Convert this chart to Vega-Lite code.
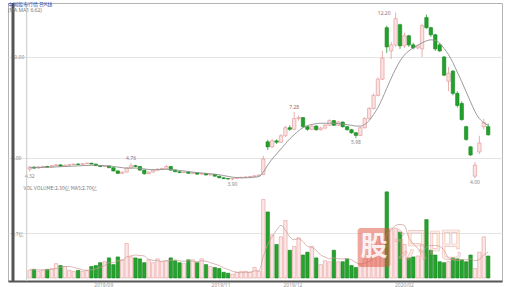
{
  "$schema": "https://vega.github.io/schema/vega-lite/v6.json",
  "width": 494,
  "height": 278,
  "autosize": {"type": "none"},
  "padding": {"left": 8, "top": 3, "right": 3, "bottom": 6},
  "background": "white",
  "config": {
    "view": {"stroke": "#b4b4b4", "strokeWidth": 1},
    "font": "Noto Sans",
    "text": {"font": "Noto Sans CJK SC"}
  },
  "title": {
    "text": "中国股市行情  日K线",
    "subtitle": "\u00a0\u00a0\u00a0\u00a0\u00a0\u00a0\u00a0\u00a0\u00a0(MA  MA1  6.62)",
    "anchor": "start",
    "frame": "group",
    "offset": -11,
    "fontSize": 5,
    "fontWeight": "normal",
    "font": "Noto Sans CJK SC",
    "color": "#2d4fb5",
    "subtitleFontSize": 5,
    "subtitleFont": "Noto Sans",
    "subtitleColor": "#777777",
    "subtitlePadding": 1
  },
  "datasets": {
    "k": [
      {"i": 0, "o": 4.45, "c": 4.55, "h": 4.60, "l": 4.32, "v": 0.8, "ma": 4.52, "vma": 0.9},
      {"i": 1, "o": 4.55, "c": 4.50, "h": 4.58, "l": 4.46, "v": 0.9, "ma": 4.52, "vma": 0.9},
      {"i": 2, "o": 4.50, "c": 4.56, "h": 4.59, "l": 4.48, "v": 0.7, "ma": 4.53, "vma": 0.85},
      {"i": 3, "o": 4.56, "c": 4.58, "h": 4.62, "l": 4.53, "v": 0.8, "ma": 4.53, "vma": 0.85},
      {"i": 4, "o": 4.58, "c": 4.55, "h": 4.61, "l": 4.52, "v": 0.9, "ma": 4.54, "vma": 0.85},
      {"i": 5, "o": 4.55, "c": 4.62, "h": 4.65, "l": 4.54, "v": 1.0, "ma": 4.55, "vma": 0.9},
      {"i": 6, "o": 4.62, "c": 4.66, "h": 4.70, "l": 4.60, "v": 1.5, "ma": 4.56, "vma": 1.0},
      {"i": 7, "o": 4.66, "c": 4.60, "h": 4.68, "l": 4.58, "v": 1.3, "ma": 4.57, "vma": 1.1},
      {"i": 8, "o": 4.60, "c": 4.64, "h": 4.67, "l": 4.58, "v": 1.2, "ma": 4.58, "vma": 1.2},
      {"i": 9, "o": 4.64, "c": 4.67, "h": 4.70, "l": 4.62, "v": 0.8, "ma": 4.59, "vma": 1.2},
      {"i": 10, "o": 4.67, "c": 4.70, "h": 4.73, "l": 4.65, "v": 0.7, "ma": 4.60, "vma": 1.1},
      {"i": 11, "o": 4.70, "c": 4.68, "h": 4.74, "l": 4.66, "v": 0.8, "ma": 4.61, "vma": 1.0},
      {"i": 12, "o": 4.68, "c": 4.72, "h": 4.75, "l": 4.67, "v": 0.7, "ma": 4.62, "vma": 0.85},
      {"i": 13, "o": 4.72, "c": 4.74, "h": 4.78, "l": 4.70, "v": 0.8, "ma": 4.63, "vma": 0.8},
      {"i": 14, "o": 4.74, "c": 4.70, "h": 4.76, "l": 4.68, "v": 1.2, "ma": 4.64, "vma": 0.85},
      {"i": 15, "o": 4.70, "c": 4.62, "h": 4.72, "l": 4.60, "v": 1.3, "ma": 4.64, "vma": 0.95},
      {"i": 16, "o": 4.62, "c": 4.58, "h": 4.64, "l": 4.55, "v": 1.6, "ma": 4.63, "vma": 1.1},
      {"i": 17, "o": 4.58, "c": 4.60, "h": 4.63, "l": 4.56, "v": 1.7, "ma": 4.62, "vma": 1.3},
      {"i": 18, "o": 4.60, "c": 4.52, "h": 4.62, "l": 4.50, "v": 2.1, "ma": 4.61, "vma": 1.6},
      {"i": 19, "o": 4.52, "c": 4.36, "h": 4.54, "l": 4.33, "v": 1.4, "ma": 4.58, "vma": 1.6},
      {"i": 20, "o": 4.36, "c": 4.24, "h": 4.38, "l": 4.20, "v": 2.2, "ma": 4.55, "vma": 1.8},
      {"i": 21, "o": 4.24, "c": 4.30, "h": 4.34, "l": 4.21, "v": 1.9, "ma": 4.52, "vma": 1.85},
      {"i": 22, "o": 4.30, "c": 4.50, "h": 4.54, "l": 4.28, "v": 3.6, "ma": 4.50, "vma": 2.2},
      {"i": 23, "o": 4.50, "c": 4.62, "h": 4.76, "l": 4.48, "v": 2.2, "ma": 4.50, "vma": 2.3},
      {"i": 24, "o": 4.62, "c": 4.58, "h": 4.66, "l": 4.54, "v": 2.1, "ma": 4.50, "vma": 2.4},
      {"i": 25, "o": 4.58, "c": 4.40, "h": 4.60, "l": 4.38, "v": 2.0, "ma": 4.49, "vma": 2.35},
      {"i": 26, "o": 4.40, "c": 4.22, "h": 4.42, "l": 4.18, "v": 1.6, "ma": 4.46, "vma": 2.3},
      {"i": 27, "o": 4.22, "c": 4.30, "h": 4.33, "l": 4.20, "v": 1.9, "ma": 4.43, "vma": 1.95},
      {"i": 28, "o": 4.30, "c": 4.40, "h": 4.43, "l": 4.28, "v": 1.6, "ma": 4.42, "vma": 1.85},
      {"i": 29, "o": 4.40, "c": 4.45, "h": 4.48, "l": 4.38, "v": 2.0, "ma": 4.42, "vma": 1.8},
      {"i": 30, "o": 4.45, "c": 4.48, "h": 4.52, "l": 4.43, "v": 1.7, "ma": 4.43, "vma": 1.75},
      {"i": 31, "o": 4.48, "c": 4.58, "h": 4.66, "l": 4.46, "v": 1.8, "ma": 4.44, "vma": 1.8},
      {"i": 32, "o": 4.58, "c": 4.40, "h": 4.60, "l": 4.38, "v": 2.1, "ma": 4.43, "vma": 1.85},
      {"i": 33, "o": 4.40, "c": 4.32, "h": 4.42, "l": 4.30, "v": 1.8, "ma": 4.41, "vma": 1.9},
      {"i": 34, "o": 4.32, "c": 4.28, "h": 4.35, "l": 4.26, "v": 1.6, "ma": 4.38, "vma": 1.8},
      {"i": 35, "o": 4.28, "c": 4.30, "h": 4.33, "l": 4.26, "v": 1.5, "ma": 4.36, "vma": 1.75},
      {"i": 36, "o": 4.30, "c": 4.24, "h": 4.32, "l": 4.22, "v": 1.9, "ma": 4.33, "vma": 1.8},
      {"i": 37, "o": 4.24, "c": 4.26, "h": 4.29, "l": 4.22, "v": 1.9, "ma": 4.30, "vma": 1.75},
      {"i": 38, "o": 4.26, "c": 4.20, "h": 4.28, "l": 4.18, "v": 1.6, "ma": 4.28, "vma": 1.7},
      {"i": 39, "o": 4.20, "c": 4.23, "h": 4.26, "l": 4.18, "v": 2.0, "ma": 4.26, "vma": 1.8},
      {"i": 40, "o": 4.23, "c": 4.16, "h": 4.25, "l": 4.14, "v": 1.4, "ma": 4.24, "vma": 1.75},
      {"i": 41, "o": 4.16, "c": 4.18, "h": 4.21, "l": 4.14, "v": 1.2, "ma": 4.22, "vma": 1.6},
      {"i": 42, "o": 4.18, "c": 4.10, "h": 4.20, "l": 4.08, "v": 1.1, "ma": 4.20, "vma": 1.45},
      {"i": 43, "o": 4.10, "c": 4.02, "h": 4.12, "l": 4.00, "v": 1.0, "ma": 4.17, "vma": 1.3},
      {"i": 44, "o": 4.02, "c": 3.98, "h": 4.04, "l": 3.96, "v": 0.6, "ma": 4.13, "vma": 1.05},
      {"i": 45, "o": 3.98, "c": 3.96, "h": 4.00, "l": 3.93, "v": 0.5, "ma": 4.09, "vma": 0.9},
      {"i": 46, "o": 3.96, "c": 3.99, "h": 4.02, "l": 3.90, "v": 0.4, "ma": 4.05, "vma": 0.7},
      {"i": 47, "o": 3.99, "c": 4.02, "h": 4.05, "l": 3.97, "v": 0.6, "ma": 4.03, "vma": 0.6},
      {"i": 48, "o": 4.02, "c": 4.04, "h": 4.07, "l": 4.00, "v": 0.7, "ma": 4.02, "vma": 0.55},
      {"i": 49, "o": 4.04, "c": 4.06, "h": 4.09, "l": 4.02, "v": 0.7, "ma": 4.02, "vma": 0.6},
      {"i": 50, "o": 4.06, "c": 4.08, "h": 4.11, "l": 4.04, "v": 0.6, "ma": 4.03, "vma": 0.6},
      {"i": 51, "o": 4.08, "c": 4.12, "h": 4.15, "l": 4.06, "v": 1.1, "ma": 4.05, "vma": 0.75},
      {"i": 52, "o": 4.12, "c": 4.16, "h": 4.19, "l": 4.10, "v": 0.7, "ma": 4.08, "vma": 0.75},
      {"i": 53, "o": 4.18, "c": 4.95, "h": 5.10, "l": 4.16, "v": 8.2, "ma": 4.30, "vma": 2.25},
      {"i": 54, "o": 5.80, "c": 5.55, "h": 5.90, "l": 5.40, "v": 6.9, "ma": 4.65, "vma": 3.5},
      {"i": 55, "o": 5.55, "c": 5.85, "h": 5.95, "l": 5.50, "v": 4.5, "ma": 4.95, "vma": 4.3},
      {"i": 56, "o": 5.85, "c": 5.78, "h": 5.92, "l": 5.70, "v": 3.5, "ma": 5.20, "vma": 5.0},
      {"i": 57, "o": 5.78, "c": 6.10, "h": 6.18, "l": 5.75, "v": 4.3, "ma": 5.45, "vma": 5.5},
      {"i": 58, "o": 6.10, "c": 6.50, "h": 6.60, "l": 6.05, "v": 6.0, "ma": 5.70, "vma": 5.0},
      {"i": 59, "o": 6.50, "c": 6.42, "h": 6.62, "l": 6.35, "v": 2.9, "ma": 5.95, "vma": 4.3},
      {"i": 60, "o": 6.42, "c": 6.95, "h": 7.28, "l": 6.40, "v": 3.3, "ma": 6.15, "vma": 4.0},
      {"i": 61, "o": 6.95, "c": 7.00, "h": 7.10, "l": 6.85, "v": 4.2, "ma": 6.35, "vma": 4.1},
      {"i": 62, "o": 7.00, "c": 6.55, "h": 7.02, "l": 6.50, "v": 2.4, "ma": 6.50, "vma": 3.8},
      {"i": 63, "o": 6.55, "c": 6.42, "h": 6.60, "l": 6.35, "v": 2.7, "ma": 6.60, "vma": 3.3},
      {"i": 64, "o": 6.42, "c": 6.58, "h": 6.65, "l": 6.38, "v": 3.3, "ma": 6.66, "vma": 3.2},
      {"i": 65, "o": 6.58, "c": 6.40, "h": 6.62, "l": 6.35, "v": 2.1, "ma": 6.70, "vma": 2.9},
      {"i": 66, "o": 6.40, "c": 6.48, "h": 6.55, "l": 6.36, "v": 1.4, "ma": 6.72, "vma": 2.4},
      {"i": 67, "o": 6.48, "c": 6.62, "h": 6.68, "l": 6.45, "v": 1.8, "ma": 6.72, "vma": 2.2},
      {"i": 68, "o": 6.62, "c": 6.85, "h": 6.92, "l": 6.58, "v": 1.7, "ma": 6.72, "vma": 2.0},
      {"i": 69, "o": 6.85, "c": 6.62, "h": 6.88, "l": 6.58, "v": 2.9, "ma": 6.72, "vma": 2.1},
      {"i": 70, "o": 6.62, "c": 6.78, "h": 6.84, "l": 6.58, "v": 1.7, "ma": 6.70, "vma": 2.0},
      {"i": 71, "o": 6.78, "c": 6.55, "h": 6.80, "l": 6.50, "v": 1.7, "ma": 6.68, "vma": 2.0},
      {"i": 72, "o": 6.55, "c": 6.40, "h": 6.58, "l": 6.36, "v": 2.0, "ma": 6.65, "vma": 2.0},
      {"i": 73, "o": 6.40, "c": 6.25, "h": 6.44, "l": 6.20, "v": 1.3, "ma": 6.62, "vma": 1.9},
      {"i": 74, "o": 6.25, "c": 6.12, "h": 6.28, "l": 5.98, "v": 1.1, "ma": 6.58, "vma": 1.6},
      {"i": 75, "o": 6.12, "c": 6.50, "h": 6.55, "l": 6.08, "v": 1.4, "ma": 6.58, "vma": 1.5},
      {"i": 76, "o": 6.50, "c": 6.95, "h": 7.02, "l": 6.46, "v": 2.0, "ma": 6.66, "vma": 1.55},
      {"i": 77, "o": 6.95, "c": 7.45, "h": 7.52, "l": 6.90, "v": 2.5, "ma": 6.85, "vma": 1.75},
      {"i": 78, "o": 7.45, "c": 8.10, "h": 8.20, "l": 7.40, "v": 3.0, "ma": 7.15, "vma": 2.0},
      {"i": 79, "o": 8.10, "c": 8.90, "h": 9.00, "l": 8.05, "v": 4.3, "ma": 7.50, "vma": 2.65},
      {"i": 80, "o": 8.90, "c": 9.95, "h": 10.30, "l": 8.85, "v": 4.0, "ma": 7.95, "vma": 3.05},
      {"i": 81, "o": 11.45, "c": 10.50, "h": 11.55, "l": 10.20, "v": 9.0, "ma": 8.45, "vma": 4.55},
      {"i": 82, "o": 10.30, "c": 10.60, "h": 10.75, "l": 9.90, "v": 5.2, "ma": 8.95, "vma": 5.0},
      {"i": 83, "o": 10.60, "c": 11.90, "h": 12.20, "l": 10.50, "v": 5.2, "ma": 9.40, "vma": 5.5},
      {"i": 84, "o": 11.60, "c": 10.55, "h": 11.65, "l": 10.40, "v": 4.8, "ma": 9.80, "vma": 5.6},
      {"i": 85, "o": 10.55, "c": 11.05, "h": 11.20, "l": 10.45, "v": 3.5, "ma": 10.10, "vma": 5.5},
      {"i": 86, "o": 11.05, "c": 10.60, "h": 11.10, "l": 10.50, "v": 2.1, "ma": 10.30, "vma": 4.2},
      {"i": 87, "o": 10.60, "c": 10.45, "h": 10.70, "l": 10.38, "v": 2.2, "ma": 10.45, "vma": 3.6},
      {"i": 88, "o": 10.45, "c": 10.55, "h": 10.62, "l": 10.38, "v": 2.3, "ma": 10.58, "vma": 3.1},
      {"i": 89, "o": 10.40, "c": 11.55, "h": 11.65, "l": 10.00, "v": 3.5, "ma": 10.70, "vma": 2.7},
      {"i": 90, "o": 11.95, "c": 11.45, "h": 12.10, "l": 11.40, "v": 6.1, "ma": 10.80, "vma": 3.2},
      {"i": 91, "o": 11.45, "c": 11.10, "h": 11.50, "l": 11.00, "v": 2.9, "ma": 10.85, "vma": 3.4},
      {"i": 92, "o": 11.10, "c": 10.40, "h": 11.15, "l": 10.30, "v": 2.4, "ma": 10.82, "vma": 3.4},
      {"i": 93, "o": 10.60, "c": 10.30, "h": 10.70, "l": 10.25, "v": 1.7, "ma": 10.68, "vma": 3.3},
      {"i": 94, "o": 10.00, "c": 9.10, "h": 10.05, "l": 9.05, "v": 1.6, "ma": 10.42, "vma": 2.9},
      {"i": 95, "o": 8.80, "c": 9.20, "h": 9.50, "l": 8.30, "v": 1.7, "ma": 10.12, "vma": 2.1},
      {"i": 96, "o": 9.30, "c": 8.20, "h": 9.35, "l": 8.10, "v": 2.1, "ma": 9.72, "vma": 1.9},
      {"i": 97, "o": 8.20, "c": 7.60, "h": 8.30, "l": 7.50, "v": 2.0, "ma": 9.25, "vma": 1.8},
      {"i": 98, "o": 7.70, "c": 6.90, "h": 7.80, "l": 6.85, "v": 1.9, "ma": 8.78, "vma": 1.9},
      {"i": 99, "o": 6.55, "c": 5.92, "h": 6.60, "l": 5.85, "v": 1.7, "ma": 8.28, "vma": 1.9},
      {"i": 100, "o": 5.55, "c": 5.15, "h": 5.60, "l": 5.10, "v": 2.4, "ma": 7.78, "vma": 2.0},
      {"i": 101, "o": 4.10, "c": 4.65, "h": 4.80, "l": 4.00, "v": 1.0, "ma": 7.30, "vma": 1.8},
      {"i": 102, "o": 5.30, "c": 5.74, "h": 6.10, "l": 5.20, "v": 2.7, "ma": 6.95, "vma": 1.95},
      {"i": 103, "o": 6.55, "c": 6.75, "h": 6.95, "l": 6.40, "v": 4.3, "ma": 6.75, "vma": 2.4},
      {"i": 104, "o": 6.55, "c": 6.15, "h": 6.70, "l": 6.10, "v": 2.3, "ma": 6.62, "vma": 2.7}
    ],
    "highs": [{"i": 23, "p": 4.76}, {"i": 60, "p": 7.28}],
    "lows": [{"i": 0, "p": 4.32}, {"i": 46, "p": 3.90}, {"i": 74, "p": 5.98}, {"i": 101, "p": 4.00}],
    "peak": [{"i": 83, "p": 12.20}],
    "one": [{"n": 1}]
  },
  "data": {"name": "k"},
  "resolve": {"scale": {"y": "independent"}, "axis": {"y": "independent"}},
  "layer": [
    {
      "layer": [
        {
          "mark": {"type": "rule", "strokeWidth": 0.8},
          "encoding": {
            "x": {
              "field": "i",
              "type": "quantitative",
              "scale": {"domain": [-3.778, 106.0], "nice": false, "zero": false},
              "axis": {
                "orient": "bottom",
                "values": [16.7, 43.3, 59.6, 84.9],
                "labelExpr": "datum.value == 16.7 ? '2019/09' : datum.value == 43.3 ? '2019/11' : datum.value == 59.6 ? '2019/12' : '2020/02'",
                "grid": false,
                "ticks": false,
                "domainColor": "#555555",
                "domainWidth": 2,
                "labelFontSize": 5,
                "labelColor": "#999999",
                "labelPadding": 1,
                "title": null
              }
            },
            "y": {
              "field": "l", "type": "quantitative",
              "scale": {"domain": [3.762, 12.673], "range": [180, 0], "nice": false, "zero": false},
              "axis": {
                "orient": "left", "values": [5, 10], "format": ".2f",
                "grid": true, "gridColor": "#e4e4e4", "domain": false,
                "ticks": false, "tickSize": 0, "labelAlign": "left", "labelPadding": -3,
                "labelFontSize": 5, "labelColor": "#8a8a8a", "title": null
              }
            },
            "y2": {"field": "h"},
            "color": {"condition": {"test": "datum.c >= datum.o", "value": "#e49a9a"}, "value": "#1f9a2a"}
          }
        },
        {
          "mark": {"type": "bar", "size": 3.4, "strokeWidth": 0.6},
          "encoding": {
            "x": {"field": "i", "type": "quantitative"},
            "y": {"field": "o", "type": "quantitative"},
            "y2": {"field": "c"},
            "fill": {"condition": {"test": "datum.c >= datum.o", "value": "#fbe1e1"}, "value": "#22a02c"},
            "stroke": {"condition": {"test": "datum.c >= datum.o", "value": "#e39494"}, "value": "#17871f"}
          }
        },
        {
          "mark": {"type": "line", "stroke": "#8e8e8e", "strokeWidth": 0.9, "interpolate": "monotone"},
          "encoding": {
            "x": {"field": "i", "type": "quantitative"},
            "y": {"field": "ma", "type": "quantitative"}
          }
        },
        {
          "data": {"name": "highs"},
          "mark": {"type": "text", "fontSize": 5, "baseline": "bottom", "dy": -2, "color": "#a06a6a", "font": "Noto Sans"},
          "encoding": {
            "x": {"field": "i", "type": "quantitative"},
            "y": {"field": "p", "type": "quantitative"},
            "text": {"field": "p", "type": "quantitative", "format": ".2f"}
          }
        },
        {
          "data": {"name": "lows"},
          "mark": {"type": "text", "fontSize": 5, "baseline": "top", "dy": 2, "color": "#8a8a8a", "font": "Noto Sans"},
          "encoding": {
            "x": {"field": "i", "type": "quantitative"},
            "y": {"field": "p", "type": "quantitative"},
            "text": {"field": "p", "type": "quantitative", "format": ".2f"}
          }
        },
        {
          "data": {"name": "peak"},
          "mark": {"type": "text", "fontSize": 5, "align": "right", "baseline": "middle", "dx": -5, "color": "#a06a6a", "font": "Noto Sans"},
          "encoding": {
            "x": {"field": "i", "type": "quantitative"},
            "y": {"field": "p", "type": "quantitative"},
            "text": {"field": "p", "type": "quantitative", "format": ".2f"}
          }
        }
      ]
    },
    {
      "layer": [
        {
          "mark": {"type": "bar", "size": 3.4, "strokeWidth": 0.6},
          "encoding": {
            "x": {"field": "i", "type": "quantitative"},
            "y": {
              "field": "v", "type": "quantitative",
              "scale": {"domain": [0, 9.505], "range": [275, 184], "nice": false, "zero": false},
              "axis": {
                "orient": "left", "values": [4.7], "labelExpr": "'4.7亿'",
                "grid": true, "gridColor": "#e4e4e4", "domain": false,
                "ticks": false, "tickSize": 0, "labelAlign": "left", "labelPadding": -3,
                "labelFontSize": 5, "labelColor": "#8a8a8a", "labelFont": "Noto Sans CJK SC",
                "title": "VOL  VOLUME:2.30亿  MA5:2.70亿",
                "titleAngle": 0, "titleAlign": "left", "titleBaseline": "middle",
                "titleX": 15, "titleY": 184, "titleFontSize": 5, "titleFontWeight": "normal",
                "titleColor": "#777777", "titleFont": "Noto Sans CJK SC"
              }
            },
            "y2": {"datum": 0},
            "fill": {"condition": {"test": "datum.c >= datum.o", "value": "#fde6e6"}, "value": "#26a22f"},
            "stroke": {"condition": {"test": "datum.c >= datum.o", "value": "#e59c9c"}, "value": "#17871f"}
          }
        },
        {
          "mark": {"type": "line", "stroke": "#c99a92", "strokeWidth": 0.7, "interpolate": "monotone"},
          "encoding": {
            "x": {"field": "i", "type": "quantitative"},
            "y": {"field": "vma", "type": "quantitative"}
          }
        },
        {
          "data": {"name": "one"},
          "mark": {"type": "rect", "fill": "#e0503c", "opacity": 0.5, "cornerRadius": 3},
          "encoding": {
            "x": {"datum": 74.4},
            "x2": {"datum": 81.8},
            "y": {"datum": 1.15},
            "y2": {"datum": 5.22}
          }
        },
        {
          "data": {"name": "one"},
          "mark": {"type": "text", "text": "股", "fontSize": 27, "fontWeight": "bold", "align": "center", "baseline": "middle", "color": "#ffffff", "opacity": 0.85},
          "encoding": {
            "x": {"datum": 78.1},
            "y": {"datum": 3.15}
          }
        },
        {
          "data": {"name": "one"},
          "mark": {"type": "text", "text": "识吧", "fontSize": 34, "align": "left", "baseline": "middle", "fill": "#f2c0b8", "fillOpacity": 0.3, "stroke": "#e0806e", "strokeWidth": 0.7, "strokeOpacity": 0.45},
          "encoding": {
            "x": {"datum": 82.6},
            "y": {"datum": 3.25}
          }
        }
      ]
    },
    {
      "data": {"name": "one"},
      "mark": {"type": "rule", "stroke": "#c8c8c8", "strokeWidth": 1},
      "encoding": {"x": {"datum": -0.667}}
    },
    {
      "data": {"name": "one"},
      "mark": {"type": "rule", "stroke": "#555555", "strokeWidth": 3},
      "encoding": {"x": {"datum": -3.778}}
    }
  ]
}
